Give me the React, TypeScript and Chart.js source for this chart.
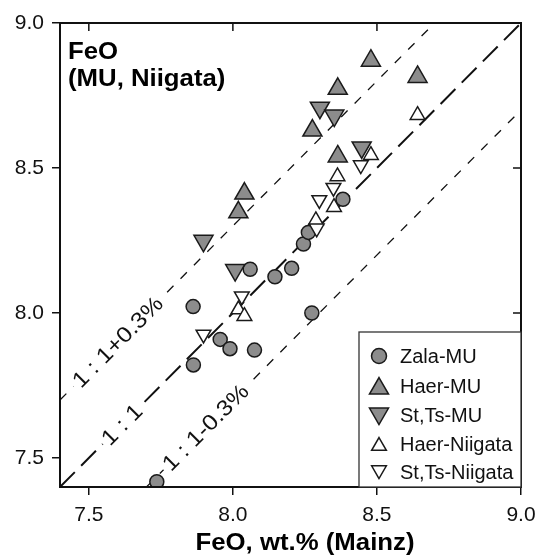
import React, { useEffect, useRef } from 'react';
import { Chart, registerables } from 'chart.js';
import { drawPoint } from 'chart.js/helpers';

Chart.register(...registerables);

// ---- data ----
const zalaMUX = [7.862, 7.863, 7.956, 7.99, 8.075, 8.274, 7.736, 8.06, 8.204, 8.146, 8.245, 8.262, 8.382];
const zalaMUY = [8.022, 7.821, 7.909, 7.877, 7.872, 8.0, 7.418, 8.151, 8.154, 8.125, 8.238, 8.278, 8.392];

const haerMUX = [8.479, 8.641, 8.364, 8.276, 8.364, 8.04, 8.019];
const haerMUY = [8.87, 8.814, 8.773, 8.629, 8.54, 8.412, 8.347];

const stTsMUX = [8.302, 8.352, 8.447, 7.898, 8.008];
const stTsMUY = [8.708, 8.681, 8.571, 8.249, 8.148];

const haerNiigataX = [8.641, 8.479, 8.363, 8.351, 8.288, 8.019, 8.04];
const haerNiigataY = [8.682, 8.544, 8.471, 8.365, 8.319, 8.012, 7.989];

const stTsNiigataX = [8.444, 8.349, 8.3, 8.291, 7.898, 8.031];
const stTsNiigataY = [8.51, 8.432, 8.39, 8.292, 7.926, 8.058];

const axisMin = 7.4;
const axisMax = 9.0;
const xTicks = [7.5, 8.0, 8.5, 9.0];
const yTicks = [7.5, 8.0, 8.5, 9.0];

const refOffsets = [0.3, 0, -0.3];
const refLabels = ['1 : 1+0.3%', '1 : 1', '1 : 1-0.3%'];
const refLabelAtX = [7.6, 7.615, 7.905];

const seriesNames = ['Zala-MU', 'Haer-MU', 'St,Ts-MU', 'Haer-Niigata', 'St,Ts-Niigata'];
const panelTitle = ['FeO', '(MU, Niigata)'];
const xTitle = 'FeO, wt.% (Mainz)';

// ---- styles ----
const FONT = '"Liberation Sans", Arial, Helvetica, sans-serif';
const GRAY = '#8c8c8c';
const DARK = '#1a1a1a';
const STRETCH = 1.12;

const seriesStyles = [
  { pointStyle: 'circle', radius: 7, rotation: 0, bg: GRAY },
  { pointStyle: 'triangle', radius: 11, rotation: 0, bg: GRAY },
  { pointStyle: 'triangle', radius: 11, rotation: 180, bg: GRAY },
  { pointStyle: 'triangle', radius: 8.5, rotation: 0, bg: '#ffffff' },
  { pointStyle: 'triangle', radius: 8.5, rotation: 180, bg: '#ffffff' },
];

const seriesX = [zalaMUX, haerMUX, stTsMUX, haerNiigataX, stTsNiigataX];
const seriesY = [zalaMUY, haerMUY, stTsMUY, haerNiigataY, stTsNiigataY];

function zip(xs: number[], ys: number[]) {
  return xs.map((x, i) => ({ x, y: ys[i] }));
}

function stretchedText(ctx: CanvasRenderingContext2D, text: string, x: number, y: number, align: 'left' | 'center') {
  ctx.save();
  ctx.translate(x, y);
  ctx.scale(STRETCH, 1);
  ctx.textAlign = align;
  ctx.fillText(text, 0, 0);
  ctx.restore();
}

export default function App() {
  const ref = useRef<HTMLCanvasElement | null>(null);

  useEffect(() => {
    const canvas = ref.current;
    if (!canvas) return;

    const refDatasets = refOffsets.map((o, i) => {
      const x0 = Math.max(axisMin, axisMin - o);
      const x1 = Math.min(axisMax, axisMax - o);
      return {
        type: 'line' as const,
        label: refLabels[i],
        data: [
          { x: x0, y: x0 + o },
          { x: x1, y: x1 + o },
        ],
        borderColor: '#111',
        borderWidth: o === 0 ? 2 : 1.3,
        borderDash: o === 0 ? [21, 9] : [9, 10],
        pointRadius: 0,
        fill: false,
        tension: 0,
        order: 10,
        refIndex: i,
      };
    });

    const pointDatasets = seriesNames.map((name, i) => ({
      type: 'scatter' as const,
      label: name,
      data: zip(seriesX[i], seriesY[i]),
      pointStyle: seriesStyles[i].pointStyle,
      pointRadius: seriesStyles[i].radius,
      pointRotation: seriesStyles[i].rotation,
      pointBackgroundColor: seriesStyles[i].bg,
      pointBorderColor: DARK,
      pointBorderWidth: 1.5,
      order: 5 - i,
    }));

    const overlay = {
      id: 'overlay',
      afterDatasetDraw(chart: any, args: any) {
        const ds: any = chart.data.datasets[args.index];
        if (ds.refIndex === undefined) return;
        const i = ds.refIndex;
        const xs = chart.scales.x;
        const ys = chart.scales.y;
        const o = refOffsets[i];
        const lx = refLabelAtX[i];
        const px = xs.getPixelForValue(lx);
        const py = ys.getPixelForValue(lx + o);
        const ax = xs.getPixelForValue(8.0);
        const ay = ys.getPixelForValue(8.0 + o);
        const bx = xs.getPixelForValue(8.5);
        const by = ys.getPixelForValue(8.5 + o);
        const ang = Math.atan2(by - ay, bx - ax);
        const ctx = chart.ctx;
        ctx.save();
        ctx.translate(px, py);
        ctx.rotate(ang);
        ctx.scale(STRETCH, 1);
        ctx.font = `22px ${FONT}`;
        const w = ctx.measureText(refLabels[i]).width;
        ctx.fillStyle = '#fff';
        ctx.fillRect(-w / 2 - 3, -11, w + 6, 22);
        ctx.fillStyle = '#111';
        ctx.textAlign = 'center';
        ctx.textBaseline = 'middle';
        ctx.fillText(refLabels[i], 0, 1);
        ctx.restore();
      },
      afterDatasetsDraw(chart: any) {
        const ctx = chart.ctx;
        const { left, right, top, bottom } = chart.chartArea;
        const xs = chart.scales.x;
        const ys = chart.scales.y;
        ctx.save();
        // frame
        ctx.strokeStyle = '#111';
        ctx.lineWidth = 2;
        ctx.strokeRect(left, top, right - left, bottom - top);
        // inward ticks top & right
        ctx.lineWidth = 1.5;
        ctx.beginPath();
        xTicks.forEach((v) => {
          const p = xs.getPixelForValue(v);
          ctx.moveTo(p, top);
          ctx.lineTo(p, top + 8);
        });
        yTicks.forEach((v) => {
          const p = ys.getPixelForValue(v);
          ctx.moveTo(right, p);
          ctx.lineTo(right - 8, p);
        });
        ctx.stroke();

        // panel title
        ctx.fillStyle = '#000';
        ctx.font = `bold 23px ${FONT}`;
        ctx.textBaseline = 'alphabetic';
        stretchedText(ctx, panelTitle[0], left + 8, 59, 'left');
        stretchedText(ctx, panelTitle[1], left + 8, 86, 'left');

        // x axis title
        stretchedText(ctx, xTitle, 305, 550, 'center');

        // legend
        const lx0 = 359;
        const ly0 = 332;
        ctx.fillStyle = '#fff';
        ctx.fillRect(lx0, ly0, right - lx0, bottom - ly0);
        ctx.strokeStyle = '#333';
        ctx.lineWidth = 1.3;
        ctx.strokeRect(lx0, ly0, right - lx0, bottom - ly0);
        const rows = [356, 386.5, 415.5, 444, 472];
        seriesNames.forEach((name, i) => {
          const st = seriesStyles[i];
          const lr = i === 1 || i === 2 ? 11 : i >= 3 ? 8.5 : 7.5;
          ctx.fillStyle = st.bg;
          ctx.strokeStyle = DARK;
          ctx.lineWidth = 1.5;
          drawPoint(ctx, { pointStyle: st.pointStyle, radius: lr, rotation: st.rotation, borderWidth: 1.5 } as any, 379, rows[i] + (st.pointStyle === 'triangle' ? (st.rotation ? -2 : 2) : 0));
          ctx.fillStyle = '#111';
          ctx.font = `20px ${FONT}`;
          ctx.textAlign = 'left';
          ctx.textBaseline = 'middle';
          ctx.fillText(name, 400, rows[i] + 1);
        });
        ctx.restore();
      },
    };

    const chart = new Chart(canvas, {
      type: 'scatter',
      data: { datasets: [...pointDatasets, ...refDatasets] as any },
      options: {
        responsive: false,
        animation: false,
        layout: { padding: { top: 23, right: 23, left: 0, bottom: 0 } },
        plugins: { legend: { display: false }, tooltip: { enabled: false } },
        scales: {
          x: {
            type: 'linear',
            min: axisMin,
            max: axisMax,
            afterBuildTicks: (s: any) => {
              s.ticks = xTicks.map((v) => ({ value: v }));
            },
            afterFit: (s: any) => {
              s.height = 69;
            },
            grid: { drawOnChartArea: false, drawTicks: true, tickLength: 8, color: '#111', lineWidth: 1.5 },
            border: { display: true, color: '#111', width: 2 },
            ticks: {
              color: '#111',
              font: { size: 21, family: FONT },
              padding: 8,
              maxRotation: 0,
              callback: (v: any) => Number(v).toFixed(1),
            },
          },
          y: {
            type: 'linear',
            min: axisMin,
            max: axisMax,
            afterBuildTicks: (s: any) => {
              s.ticks = yTicks.map((v) => ({ value: v }));
            },
            afterFit: (s: any) => {
              s.width = 60;
            },
            grid: { drawOnChartArea: false, drawTicks: true, tickLength: 8, color: '#111', lineWidth: 1.5 },
            border: { display: true, color: '#111', width: 2 },
            ticks: {
              color: '#111',
              font: { size: 21, family: FONT },
              padding: 8,
              callback: (v: any) => Number(v).toFixed(1),
            },
          },
        },
      },
      plugins: [overlay],
    });

    return () => chart.destroy();
  }, []);

  return (
    <div style={{ position: 'fixed', left: 0, top: 0, width: 544, height: 556, background: '#fff' }}>
      <canvas ref={ref} width={544} height={556} style={{ display: 'block' }} />
    </div>
  );
}
